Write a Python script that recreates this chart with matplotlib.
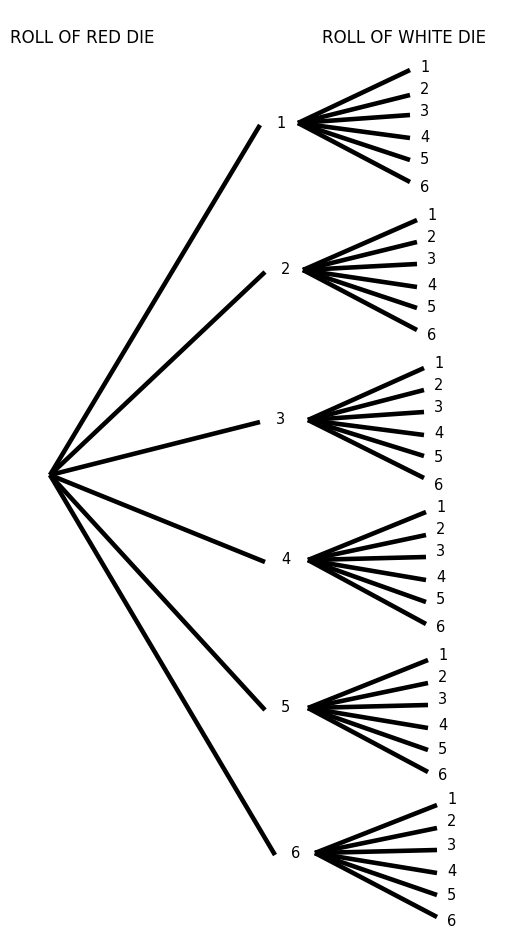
import matplotlib.pyplot as plt

RED_OUTCOMES = ['1', '2', '3', '4', '5', '6']
WHITE_OUTCOMES = ['1', '2', '3', '4', '5', '6']

# layout in pixel coordinates (y grows downward)
ROOT = (50, 475)
RED_TIPS = [(260, 125), (265, 272), (260, 422), (265, 562), (265, 710), (275, 855)]
WHITE_START_X = [298, 303, 308, 308, 308, 315]
WHITE_TIP_Y = [
    [70, 95, 115, 138, 160, 182],
    [220, 242, 264, 287, 308, 330],
    [368, 390, 412, 435, 456, 478],
    [512, 535, 557, 580, 602, 624],
    [660, 683, 705, 728, 750, 772],
    [805, 828, 850, 873, 895, 917],
]
WHITE_LABEL_Y = [
    [68, 90, 112, 137, 160, 187],
    [215, 237, 260, 285, 308, 336],
    [363, 385, 407, 433, 457, 485],
    [508, 530, 552, 578, 600, 628],
    [656, 678, 700, 726, 750, 776],
    [800, 822, 846, 872, 895, 922],
]

fig = plt.figure(figsize=(5.3, 9.42), dpi=100)
ax = fig.add_axes([0, 0, 1, 1])
ax.set_xlim(0, 530)
ax.set_ylim(942, 0)
ax.axis('off')

ax.text(10, 38, 'ROLL OF RED DIE', fontsize=12, va='center', ha='left')
ax.text(322, 38, 'ROLL OF WHITE DIE', fontsize=12, va='center', ha='left')

for i, red in enumerate(RED_OUTCOMES):
    tx, ty = RED_TIPS[i]
    ax.plot([ROOT[0], tx], [ROOT[1], ty], color='black', lw=3.3, solid_capstyle='butt')
    ax.text(tx + 16, ty - 2, red, fontsize=10.5, va='center', ha='left')
    sx = WHITE_START_X[i]
    sy = ty - 2
    end_x = sx + 112 + i * 2
    for j, white in enumerate(WHITE_OUTCOMES):
        ey = WHITE_TIP_Y[i][j]
        ax.plot([sx, end_x], [sy, ey], color='black', lw=3.3, solid_capstyle='butt')
        ax.text(end_x + 10, WHITE_LABEL_Y[i][j], white, fontsize=10.5, va='center', ha='left')

fig.savefig('out.png', dpi=100)
